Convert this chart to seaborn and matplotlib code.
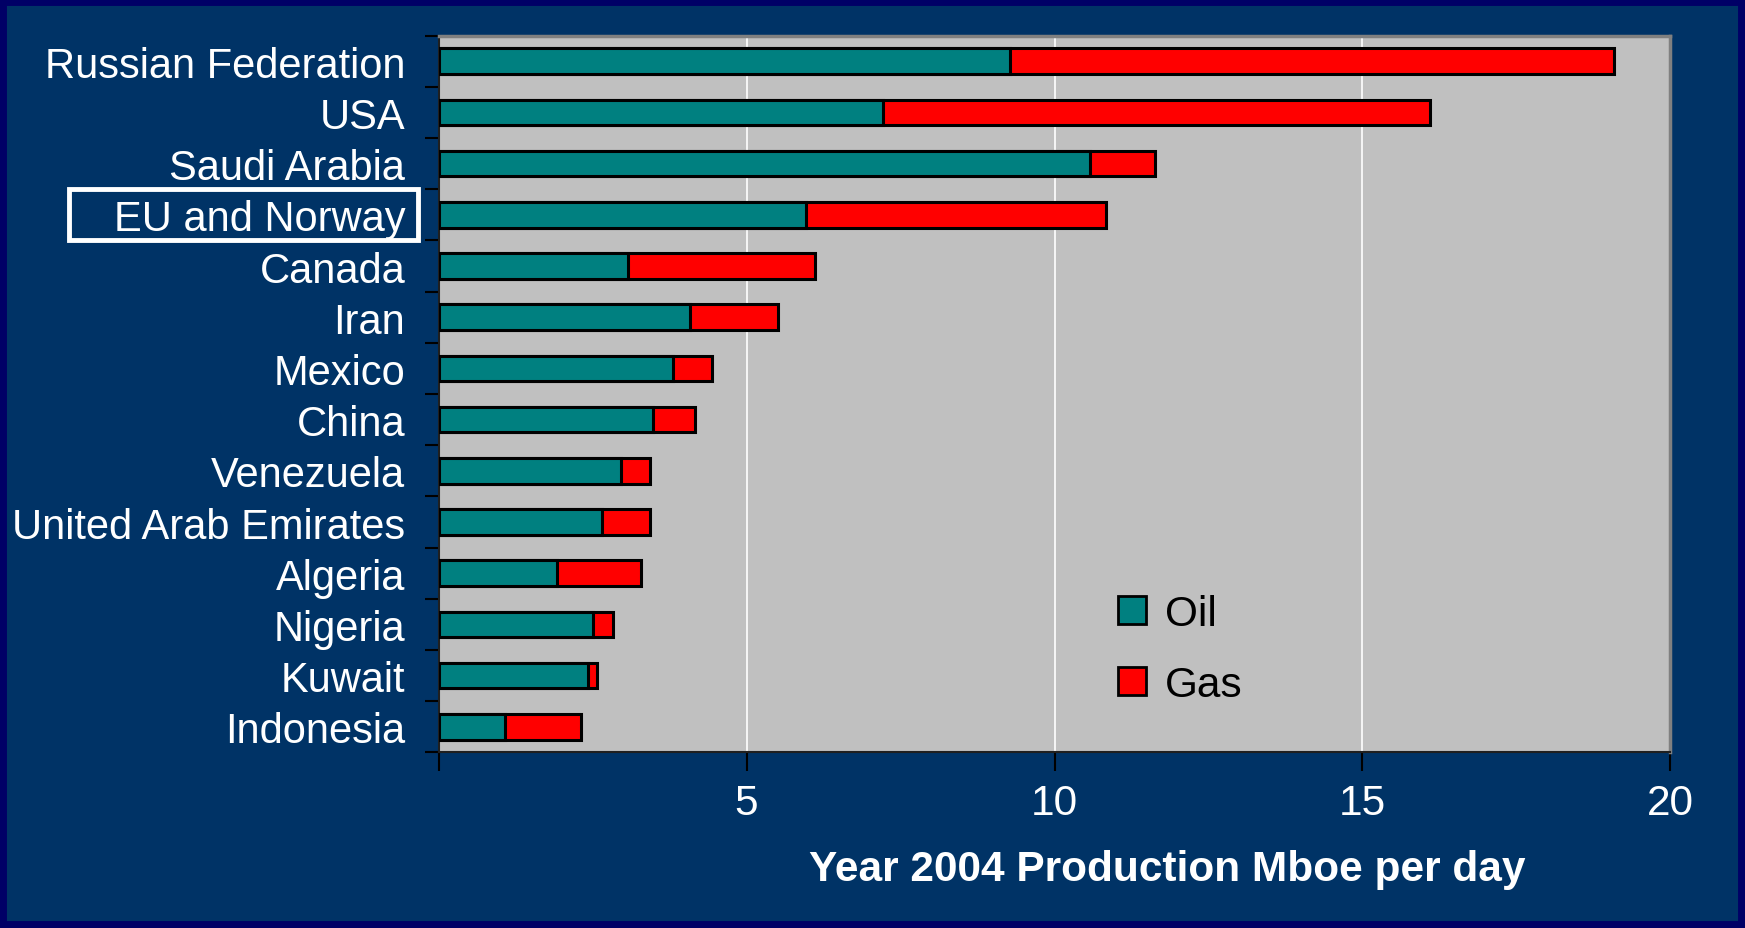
import matplotlib
matplotlib.use("Agg")
import matplotlib.pyplot as plt
import matplotlib.patches as mpatches
import matplotlib.transforms as mtransforms
import seaborn as sns
import pandas as pd

countries = ["Russian Federation", "USA", "Saudi Arabia", "EU and Norway", "Canada",
             "Iran", "Mexico", "China", "Venezuela", "United Arab Emirates",
             "Algeria", "Nigeria", "Kuwait", "Indonesia"]
oil = [9.27, 7.21, 10.57, 5.96, 3.07, 4.08, 3.81, 3.49, 2.96, 2.66, 1.92, 2.51, 2.42, 1.08]
gas = [9.81, 8.89, 1.06, 4.88, 3.04, 1.43, 0.63, 0.68, 0.47, 0.77, 1.37, 0.33, 0.15, 1.23]
xticks = [5, 10, 15, 20]
xlabel = "Year 2004 Production Mboe per day"

df = pd.DataFrame({"country": countries, "oil": oil, "gas": gas})
df["total"] = df["oil"] + df["gas"]

sns.set_theme(style="white")
plt.rcParams["font.family"] = ["Liberation Sans", "DejaVu Sans"]

BG = "#003366"
fig = plt.figure(figsize=(17.45, 9.29), dpi=100, facecolor=BG)
ax = fig.add_axes([0.2513, 0.189, 0.7060, 0.7715])
ax.set_facecolor("#C0C0C0")

sns.barplot(data=df, y="country", x="total", orient="h", color="#FF0000", saturation=1,
            edgecolor="black", linewidth=2.2, width=0.5, ax=ax, label="Gas", zorder=3)
sns.barplot(data=df, y="country", x="oil", orient="h", color="#008080", saturation=1,
            edgecolor="black", linewidth=2.2, width=0.5, ax=ax, label="Oil", zorder=4)
for p in ax.patches:
    p.set_alpha(1)

ax.set_xlim(0, 20)
ax.set_ylim(len(countries) - 0.5, -0.5)
ax.set_xticks(xticks)
ax.set_xticklabels([str(t) for t in xticks])
ax.xaxis.grid(True, color="white", lw=1.2, zorder=0)
ax.yaxis.grid(False)
ax.set_axisbelow(True)

# y tick marks at category boundaries
ax.set_yticks(range(len(countries)))
ax.set_yticklabels(countries)
ax.set_yticks([i - 0.5 for i in range(len(countries) + 1)], minor=True)
ax.tick_params(axis="y", which="major", length=0, pad=24, labelsize=30, labelcolor="white")
ax.tick_params(axis="y", which="minor", length=10, width=1.5, color="black", left=True)
ax.tick_params(axis="x", which="major", length=14, width=1.5, color="black", bottom=True,
               labelsize=30.5, labelcolor="white", pad=8, direction="out")
ax.xaxis.set_minor_locator(matplotlib.ticker.FixedLocator([0]))
ax.tick_params(axis="x", which="minor", length=14, width=1.5, color="black", bottom=True)

for side in ["top", "right"]:
    ax.spines[side].set_color("#808080")
    ax.spines[side].set_linewidth(2.5)
for side in ["left", "bottom"]:
    ax.spines[side].set_color("#202020")
    ax.spines[side].set_linewidth(1.5)
    ax.spines[side].set_visible(True)

ax.set_ylabel("")
ax.set_xlabel("")
fig.text(0.669, 0.064, xlabel, color="white", fontsize=30.5, fontweight="bold",
         ha="center", va="center")

# legend
handles = [mpatches.Patch(facecolor="#008080", edgecolor="black", lw=2, label="Oil"),
           mpatches.Patch(facecolor="#FF0000", edgecolor="black", lw=2, label="Gas")]
leg = ax.legend(handles=handles, loc="upper left", bbox_to_anchor=(0.521, 0.274),
                frameon=False, fontsize=30.5, handlelength=0.65, handleheight=0.65,
                handletextpad=0.45, labelspacing=0.72)
for t in leg.get_texts():
    t.set_color("black")

# highlight box around EU and Norway
idx = countries.index("EU and Norway")
trans = mtransforms.blended_transform_factory(ax.transAxes, ax.transData)
box = mpatches.Rectangle((-0.300, idx + 0.5), 0.283, -1.0, transform=trans,
                         fill=False, edgecolor="white", lw=3.5, clip_on=False)
ax.add_patch(box)

# outer border
fig.patches.append(mpatches.Rectangle((0, 0), 1, 1, transform=fig.transFigure,
                                      fill=False, edgecolor="#000066", lw=10))

fig.savefig("out.png", dpi=100, facecolor=BG)
